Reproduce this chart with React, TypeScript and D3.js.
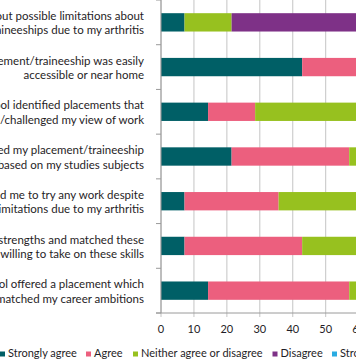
import React from "react";
import * as d3 from "d3";

const labelLines: string[][] = [
  ["My school talked with me about possible limitations about", "placements/traineeships due to my arthritis"],
  ["My placement/traineeship was easily", "accessible or near home"],
  ["My school identified placements that", "stretched/challenged my view of work"],
  ["My school selected my placement/traineeship", "based on my studies subjects"],
  ["My school encouraged me to try any work despite", "possible limitations due to my arthritis"],
  ["My school identified my strengths and matched these", "with placements I was willing to take on these skills"],
  ["My school offered a placement which", "matched my career ambitions"],
];

const seriesNames = ["Strongly agree", "Agree", "Neither agree or disagree", "Disagree", "Strongly disagree"];
const stronglyAgree = [7.14, 42.86, 14.29, 21.43, 7.14, 7.14, 14.29];
const agree = [0, 35.71, 14.29, 35.71, 28.57, 35.71, 42.86];
const neither = [14.29, 14.29, 50, 28.57, 42.86, 35.71, 28.57];
const disagree = [64.29, 7.14, 14.29, 14.29, 14.29, 14.29, 14.29];
const stronglyDisagree = [14.29, 0, 7.14, 0, 7.14, 7.14, 0];
const xTicks = [0, 10, 20, 30, 40, 50, 60, 70, 80, 90, 100];

const colors = ["#005f66", "#ec5f7e", "#97c11f", "#7e3187", "#29abe2"];

export default function App() {
  const W = 356, H = 364;
  const x = d3.scaleLinear().domain([0, 100]).range([161, 490.4]);
  const y = d3.scaleBand<number>().domain(d3.range(7)).range([0, 313]).paddingInner(0.59).paddingOuter(0.295);
  const band = 313 / 7;
  const rows = d3.range(7).map((i) => ({
    i,
    sa: stronglyAgree[i], a: agree[i], n: neither[i], d: disagree[i], sd: stronglyDisagree[i],
  }));
  const stack = d3.stack<any>().keys(["sa", "a", "n", "d", "sd"])(rows);
  const font = "Lato, 'Open Sans', sans-serif";
  const legendX = [0, 86, 133, 272.5, 332];
  return (
    <svg width={W} height={H} style={{ position: "absolute", left: 0, top: 0, display: "block" }} fontFamily={font}>
      <rect width={W} height={H} fill="#fff" />
      {xTicks.map((t) => (
        <line key={t} x1={x(t)} x2={x(t)} y1={0} y2={317} stroke="#c4c4c4" strokeWidth={1} />
      ))}
      {stack.map((s, k) =>
        s.map((seg, i) => (
          <rect key={k + "-" + i} x={x(seg[0])} y={y(i)!} width={Math.max(0, x(seg[1]) - x(seg[0]))} height={y.bandwidth()} fill={colors[k]} />
        ))
      )}
      <line x1={161} x2={161} y1={0} y2={313} stroke="#9a9a9a" strokeWidth={1} />
      <line x1={156} x2={W} y1={313} y2={313} stroke="#9a9a9a" strokeWidth={1} />
      {d3.range(8).map((k) => (
        <line key={k} x1={156} x2={161} y1={k * band} y2={k * band} stroke="#9a9a9a" strokeWidth={1} />
      ))}
      {labelLines.map((lines, i) => {
        const c = y(i)! + y.bandwidth() / 2;
        return (
          <text key={i} x={144} textAnchor="end" fontSize={11.5} fill="#1f1d26">
            <tspan x={144} y={c - 2.4}>{lines[0]}</tspan>
            <tspan x={144} y={c + 12}>{lines[1]}</tspan>
          </text>
        );
      })}
      {xTicks.map((t) => (
        <text key={t} x={x(t)} y={333} textAnchor="middle" fontSize={11} fill="#1f1d26">{t}</text>
      ))}
      {seriesNames.map((name, k) => (
        <g key={name}>
          <rect x={legendX[k]} y={351.5} width={5} height={5} fill={colors[k]} />
          <text x={legendX[k] + 8} y={357} fontSize={11} fill="#1f1d26">{name}</text>
        </g>
      ))}
    </svg>
  );
}
